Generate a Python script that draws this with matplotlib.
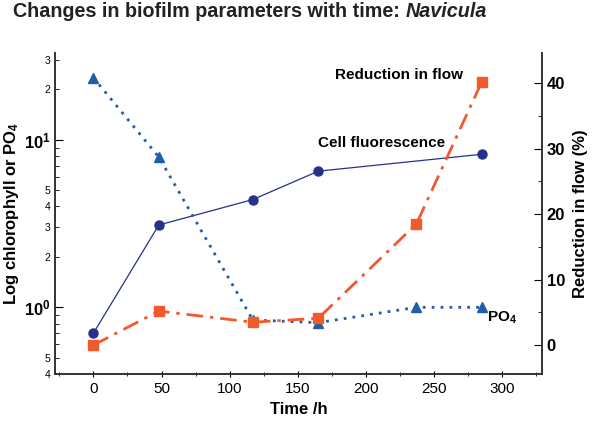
import math

import matplotlib
matplotlib.use("Agg")
import matplotlib.pyplot as plt
from matplotlib.ticker import LogLocator, FuncFormatter, MultipleLocator

plt.rcParams["font.family"] = ["Liberation Sans", "DejaVu Sans"]
plt.rcParams["mathtext.fontset"] = "custom"
plt.rcParams["mathtext.rm"] = "Liberation Sans"
plt.rcParams["mathtext.bf"] = "Liberation Sans:bold"
plt.rcParams["mathtext.it"] = "Liberation Sans:italic"

# data
hours = [0, 48, 117, 165, 237, 285]
cell_hours = [0, 48, 117, 165, 285]
cell_fluor = [0.70, 3.1, 4.4, 6.5, 8.2]
po4 = [23.5, 7.9, 0.84, 0.81, 1.0, 1.0]
flow_reduction = [0.0, 5.2, 3.5, 4.1, 18.5, 40.2]

NAVY = "#27308c"
BLUE = "#1f5eab"
ORANGE = "#f05a2c"
DARK = "#222222"


def log_label(val, pos):
    exp = round(math.log10(val), 6)
    if exp == int(exp):
        return r"$\mathbf{10^{%d}}$" % int(exp)
    lead = round(val / 10 ** math.floor(exp))
    if lead in (2, 3, 4, 5):
        return str(lead)
    return ""


def main():
    fig = plt.figure(figsize=(6, 4.24), dpi=100)
    ax = fig.add_axes([0.092, 0.118, 0.811, 0.757])
    ax2 = ax.twinx()

    ax.plot(cell_hours, cell_fluor, color=NAVY, lw=0.9, marker="o", ms=6.5)
    ax.plot(hours, po4, color=BLUE, lw=2.0, ls=(0, (1, 2.2)), marker="^", ms=7.5)
    ax2.plot(hours, flow_reduction, color=ORANGE, lw=2.0, ls=(0, (6, 2.5, 1.2, 2.5)),
             marker="s", ms=7.5)

    ax.set_yscale("log")
    ax.set_xlim(-28, 329)
    ax.set_ylim(0.4, 33)
    ax2.set_ylim(-4.4, 44.6)

    ax.yaxis.set_major_locator(LogLocator(base=10))
    ax.yaxis.set_minor_locator(LogLocator(base=10, subs=range(2, 10)))
    ax.yaxis.set_major_formatter(FuncFormatter(log_label))
    ax.yaxis.set_minor_formatter(FuncFormatter(log_label))

    ax.xaxis.set_major_locator(MultipleLocator(50))
    ax.xaxis.set_minor_locator(MultipleLocator(25))
    ax2.yaxis.set_major_locator(MultipleLocator(10))
    ax2.yaxis.set_minor_locator(MultipleLocator(5))

    for a in (ax, ax2):
        a.spines["top"].set_visible(False)
        for s in a.spines.values():
            s.set_linewidth(1.2)
            s.set_color("#333333")

    ax.tick_params(axis="y", which="major", direction="in", length=6, labelsize=12)
    ax.tick_params(axis="y", which="minor", direction="in", length=3, labelsize=7.5)
    ax.tick_params(axis="x", which="major", direction="inout", length=5, labelsize=11)
    ax.tick_params(axis="x", which="minor", direction="inout", length=3)
    ax2.tick_params(axis="y", which="major", direction="in", length=6, labelsize=12)
    ax2.tick_params(axis="y", which="minor", direction="in", length=3)
    for lab in ax2.get_yticklabels():
        lab.set_fontweight("bold")

    ax.set_xlabel("Time /h", fontsize=12, fontweight="bold")
    ax.set_ylabel(r"Log chlorophyll or PO$_\mathbf{4}$", fontsize=12, fontweight="bold", labelpad=2)
    ax2.set_ylabel("Reduction in flow (%)", fontsize=12, fontweight="bold", labelpad=6)

    ax2.text(177, 41.3, "Reduction in flow", fontsize=11, fontweight="bold", va="center")
    ax.text(165, 9.6, "Cell fluorescence", fontsize=11, fontweight="bold", va="center")
    ax.text(289, 0.87, r"PO$_\mathbf{4}$", fontsize=11, fontweight="bold", va="center")

    # title: bold text followed by bold italic genus name
    head = fig.text(0.022, 0.972, "Changes in biofilm parameters with time: ",
                    fontsize=14.2, fontweight="bold", color=DARK, va="center")
    fig.canvas.draw()
    bbox = head.get_window_extent(renderer=fig.canvas.get_renderer())
    fig.text(bbox.x1 / fig.bbox.width, 0.972, "Navicula", fontsize=14.2,
             fontweight="bold", fontstyle="italic", color=DARK, va="center")

    fig.savefig("out.png", dpi=100)


if __name__ == "__main__":
    main()
